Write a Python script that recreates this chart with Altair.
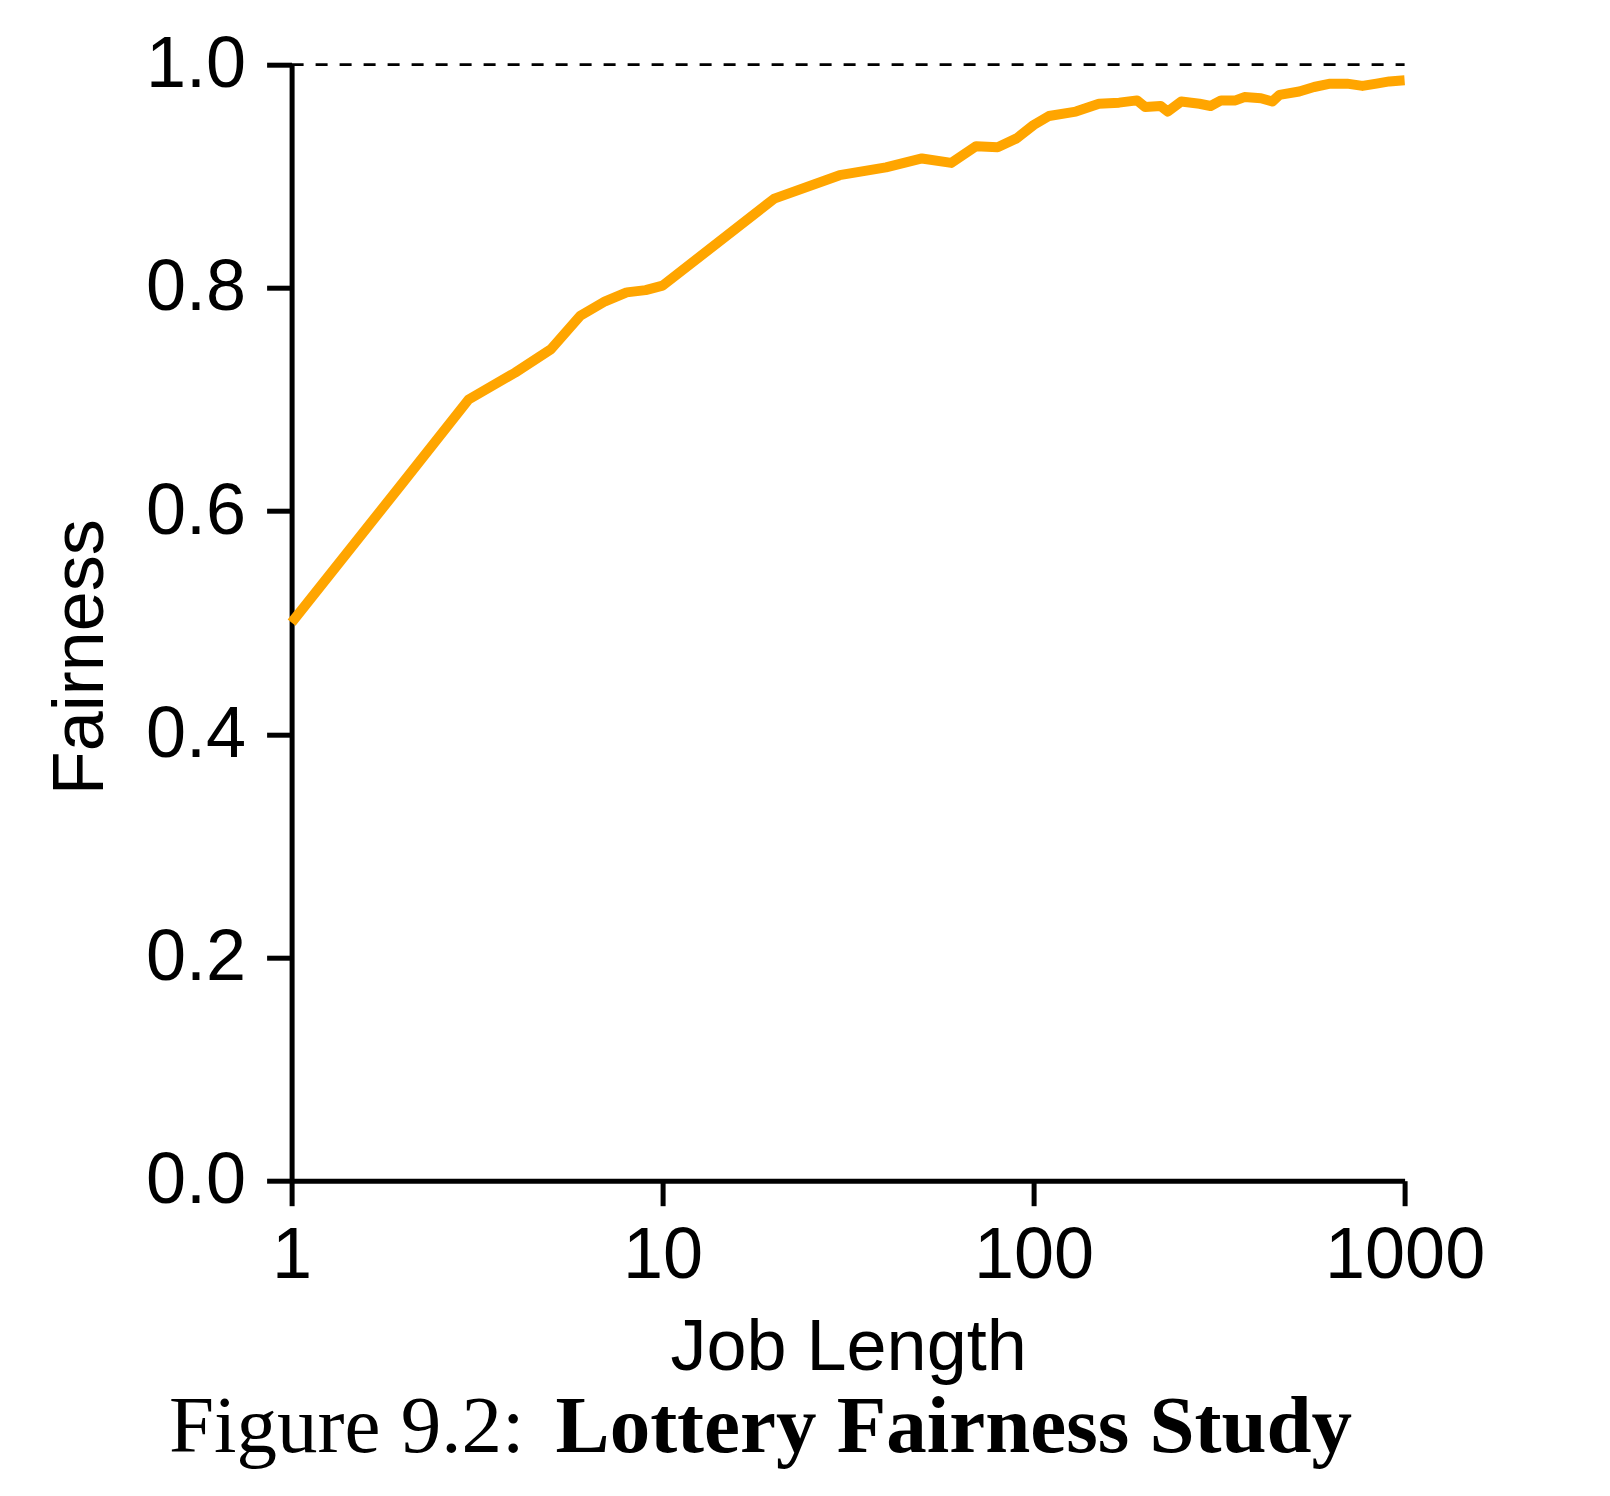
import altair as alt
import pandas as pd

# Job length (log scale) vs. measured fairness of the lottery scheduler
job_length = [1, 2, 3, 4, 5, 6, 7, 8, 9, 10,
              20, 30, 40, 50, 60, 70, 80, 90, 100,
              110, 130, 150, 170, 190, 200, 220, 230, 250, 280, 300,
              320, 350, 370, 410, 440, 460, 520, 570, 630, 700, 770,
              840, 910, 1000]
fairness = [0.500, 0.626, 0.700, 0.724, 0.745, 0.775, 0.788, 0.796, 0.798, 0.802,
            0.880, 0.901, 0.908, 0.916, 0.912, 0.927, 0.926, 0.934, 0.946,
            0.954, 0.958, 0.965, 0.966, 0.968, 0.962, 0.963, 0.958, 0.967, 0.965, 0.963,
            0.968, 0.968, 0.971, 0.970, 0.967, 0.973, 0.976, 0.980, 0.983, 0.983, 0.981,
            0.983, 0.985, 0.986]

x_ticks = [1, 10, 100, 1000]
y_ticks = [0.0, 0.2, 0.4, 0.6, 0.8, 1.0]

caption_prefix = "Figure 9.2:"
caption_title = "Lottery Fairness Study"

df = pd.DataFrame({"length": job_length, "fairness": fairness})

W, H = 1113, 1116
SANS = "Liberation Sans"
SERIF = "Liberation Serif"

x_enc = alt.X(
    "length:Q",
    scale=alt.Scale(type="log", domain=[1, 1000], nice=False),
    axis=alt.Axis(
        title="Job Length", values=x_ticks, labelExpr="format(datum.value, 'd')",
        grid=False, tickSize=25, tickWidth=5, domainWidth=5,
        domainColor="black", tickColor="black",
        labelFont=SANS, labelFontSize=72, labelColor="black", labelPadding=15,
        labelFlush=False, labelOverlap=False,
        titleFont=SANS, titleFontSize=72, titleFontWeight="normal", titleColor="black",
        titleBaseline="alphabetic", titleY=189, titleX=W / 2, titleAlign="center",
    ),
)
y_enc = alt.Y(
    "fairness:Q",
    scale=alt.Scale(domain=[0, 1], nice=False),
    axis=alt.Axis(
        title="Fairness", values=y_ticks, format=".1f",
        grid=False, tickSize=25, tickWidth=5, domainWidth=5,
        domainColor="black", tickColor="black",
        labelFont=SANS, labelFontSize=72, labelColor="black", labelPadding=21,
        labelFlush=False, labelOverlap=False,
        titleFont=SANS, titleFontSize=72, titleFontWeight="normal", titleColor="black",
        titleAngle=-90, titleBaseline="alphabetic", titleAlign="center",
        titleX=-189, titleY=592,
    ),
)

curve = alt.Chart(df).mark_line(
    color="#FFA500", strokeWidth=10, strokeJoin="round", strokeCap="butt"
).encode(x=x_enc, y=y_enc)

# reference line at perfect fairness
perfect = alt.Chart(pd.DataFrame({"v": [1.0]})).mark_rule(
    color="black", strokeWidth=2.8, strokeDash=[12, 12]
).encode(
    y=alt.Y("v:Q"),
    x=alt.datum(1),
    x2=alt.datum(1000),
)

cap_df = pd.DataFrame({"a": [caption_prefix], "b": [caption_title]})
cap_prefix = alt.Chart(cap_df).mark_text(
    font=SERIF, fontSize=81, align="left", baseline="alphabetic", color="black"
).encode(text="a:N", x=alt.value(169 - 291.6), y=alt.value(1387))
cap_title = alt.Chart(cap_df).mark_text(
    font=SERIF, fontSize=81, fontWeight="bold", align="left", baseline="alphabetic",
    color="black"
).encode(text="b:N", x=alt.value(555.6 - 291.6), y=alt.value(1387))

chart = alt.layer(perfect, curve, cap_prefix, cap_title).properties(
    width=W, height=H,
    autosize=alt.AutoSizeParams(type="none"),
    padding={"left": 291.6, "top": 64.7, "right": 1610 - 291.6 - W, "bottom": 1496 - 64.7 - H},
    background="white",
).configure_view(stroke=None)

chart.save("out.html", embed_options={"renderer": "svg", "actions": False})
